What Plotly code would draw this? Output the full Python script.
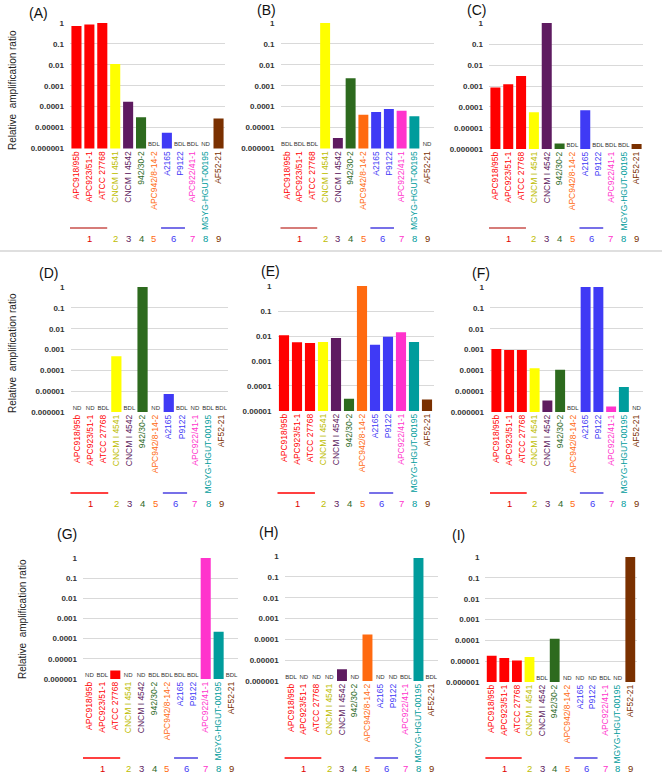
import plotly.graph_objects as go

W, H = 662, 773


def fx(px):
    return px / W


def fy(py):
    return 1 - py / H


categories = ["APC918/95b", "APC923/51-1", "ATCC 27768", "CNCM I 4541", "CNCM I 4542",
              "942/30-2", "APC942/8-14-2", "A2165", "P9122", "APC922/41-1",
              "MGYG-HGUT-00195", "AF52-21"]
bar_colors = ["#FF0000", "#FF0000", "#FF0000", "#FFFF00", "#5E1B60", "#2D6A1E",
              "#FF6A10", "#3F3AF5", "#3F3AF5", "#FF33CC", "#009C9C", "#7A3000"]
label_colors = ["#FF0000", "#FF0000", "#FF0000", "#BDBD00", "#5E1B60", "#2D6A1E",
                "#FF6A10", "#3F3AF5", "#3F3AF5", "#FF33CC", "#009C9C", "#7A3000"]

group_names = ["1", "2", "3", "4", "5", "6", "7", "8", "9"]
group_pos = [1, 3, 4, 5, 6, 7.5, 9, 10, 11]
group_colors = ["#E00000", "#BDBD00", "#5E1B60", "#2D6A1E", "#FF6A10", "#3F3AF5",
                "#FF33CC", "#009C9C", "#7A3000"]

tick_vals = [1e-6, 1e-5, 1e-4, 1e-3, 1e-2, 1e-1, 1]
tick_text = ["0.000001", "0.00001", "0.0001", "0.001", "0.01", "0.1", "1"]

vals_A = [0.72, 0.86, 1.0, 0.011, 1.7e-4, 3.1e-5, None, 5.7e-6, None, None, None, 2.7e-5]
notes_A = ["", "", "", "", "", "", "BDL", "", "BDL", "BDL", "ND", ""]
vals_B = [None, None, None, 1.0, 3.2e-6, 2.3e-3, 4.1e-5, 5.6e-5, 7.8e-5, 6.3e-5, 3.5e-5, None]
notes_B = ["BDL", "BDL", "BDL", "", "", "", "", "", "", "", "", "ND"]
vals_C = [8.5e-4, 1.2e-3, 3.0e-3, 5.6e-5, 1.0, 1.8e-6, None, 6.9e-5, None, None, None, 1.7e-6]
notes_C = ["", "", "", "", "", "", "BDL", "", "BDL", "BDL", "BDL", ""]
vals_D = [None, None, None, 4.7e-4, None, 1.0, None, 7.2e-6, None, None, None, None]
notes_D = ["ND", "ND", "BDL", "", "BDL", "", "ND", "", "BDL", "ND", "BDL", "BDL"]
vals_E = [0.0107, 0.0056, 0.0052, 0.0058, 0.0083, 3.1e-5, 1.0, 0.0045, 0.0093, 0.014, 0.0058, 2.9e-5]
notes_E = [""] * 12
vals_F = [1.05e-3, 9.5e-4, 9.5e-4, 1.26e-4, 3.5e-6, 1.05e-4, None, 1.0, 1.0, 1.8e-6, 1.6e-5, None]
notes_F = ["", "", "", "", "", "", "BDL", "", "", "", "", "ND"]
vals_G = [None, None, 2.6e-6, None, None, None, None, None, None, 1.0, 2.2e-4, None]
notes_G = ["ND", "BDL", "", "ND", "ND", "BDL", "BDL", "BDL", "BDL", "", "", "BDL"]
vals_H = [None, None, None, None, 3.6e-6, None, 1.7e-4, None, None, None, 0.8, None]
notes_H = ["BDL", "ND", "ND", "ND", "", "ND", "", "ND", "ND", "BDL", "", "BDL"]
vals_I = [1.8e-5, 1.4e-5, 1.07e-5, 1.6e-5, None, 1.2e-4, None, None, None, None, None, 1.0]
notes_I = ["", "", "", "", "BDL", "", "ND", "ND", "ND", "BDL", "ND", ""]

panels = [
    # name, values, notes, x px domain, y px domain, log low, title pos, group line y, number y, line1 color
    ("A", vals_A, notes_A, (70, 225), (23, 148.5), -6, (27, 13), 228, 238, "#C8504D"),
    ("B", vals_B, notes_B, (280.5, 433.5), (23, 148.5), -6, (255, 10), 228, 238, "#C8504D"),
    ("C", vals_C, notes_C, (489, 643), (23, 149), -6, (465, 10), 228, 238, "#C8504D"),
    ("D", vals_D, notes_D, (70.5, 227.7), (287, 412), -6, (37, 273), 493, 503, "#FF0000"),
    ("E", vals_E, notes_E, (277.5, 433.5), (286, 411), -5, (259, 271), 493, 503, "#FF0000"),
    ("F", vals_F, notes_F, (490, 643), (287, 412), -6, (470, 273), 493, 503, "#FF0000"),
    ("G", vals_G, notes_G, (83, 238), (558, 679), -6, (55, 534), 758, 768, "#FF0000"),
    ("H", vals_H, notes_H, (284.6, 437.6), (556, 681), -6, (257, 532), 758, 768, "#FF0000"),
    ("I", vals_I, notes_I, (485.4, 636.6), (557, 682), -6, (450, 535), 758, 768, "#FF0000"),
]

ytitle_pos = [(12, 90), (12, 353), (22, 619)]

fig = go.Figure()
annotations = []
shapes = []

ticktext_x = ['<span style="color:%s">%s</span>' % (c, n) for n, c in zip(categories, label_colors)]

for i, (name, vals, notes, xd, yd, low, tpos, gl_y, gn_y, l1c) in enumerate(panels):
    k = i + 1
    xa = "x" if k == 1 else "x%d" % k
    ya = "y" if k == 1 else "y%d" % k
    fig.add_trace(go.Bar(x=categories, y=vals, marker=dict(color=bar_colors, line=dict(width=0)),
                         xaxis=xa, yaxis=ya, hoverinfo="x+y"))
    nx = [c for c, n in zip(categories, notes) if n]
    nt = [n for n in notes if n]
    if nx:
        fig.add_trace(go.Scatter(x=nx, y=[10 ** (low + 0.17)] * len(nx), text=nt, mode="text",
                                 textfont=dict(size=6, color="#333333", family="Liberation Sans"),
                                 xaxis=xa, yaxis=ya, hoverinfo="skip"))
    xkey = "xaxis" if k == 1 else "xaxis%d" % k
    ykey = "yaxis" if k == 1 else "yaxis%d" % k
    fig.layout[xkey] = dict(domain=[fx(xd[0]), fx(xd[1])], anchor=ya, type="category",
                            range=[-0.5, 11.5], tickmode="array", tickvals=categories,
                            ticktext=ticktext_x, tickangle=-90, showgrid=False, showline=False,
                            ticks="", tickfont=dict(size=8.5, family="Liberation Sans"),
                            automargin=False, fixedrange=True)
    tv = [v for v in tick_vals if v >= 10 ** low * 0.999]
    tt = tick_text[len(tick_vals) - len(tv):]
    fig.layout[ykey] = dict(domain=[fy(yd[1]), fy(yd[0])], anchor=xa, type="log",
                            range=[low - 0.003, 0.003], tickmode="array", tickvals=tv, ticktext=tt,
                            showgrid=True, gridcolor="#D9D9D9", gridwidth=1, zeroline=False,
                            showline=False, ticks="", ticklabelstandoff=5,
                            tickfont=dict(size=8, family="Liberation Sans", color="#333333",
                                          weight="bold"),
                            automargin=False, fixedrange=True)
    # panel title
    annotations.append(dict(text="(%s)" % name, x=fx(tpos[0]), y=fy(tpos[1]), xref="paper",
                            yref="paper", xanchor="left", yanchor="middle", showarrow=False,
                            font=dict(size=14, family="Liberation Sans", color="#111111")))
    # group underline bars
    shapes.append(dict(type="line", xref=xa, yref="paper", x0=-0.62, x1=2.38,
                       y0=fy(gl_y), y1=fy(gl_y), line=dict(color=l1c, width=1.5)))
    shapes.append(dict(type="line", xref=xa, yref="paper", x0=6.55, x1=8.4,
                       y0=fy(gl_y), y1=fy(gl_y), line=dict(color="#4A40E0", width=1.5)))
    for gname, gp, gc in zip(group_names, group_pos, group_colors):
        annotations.append(dict(text=gname, x=gp, y=fy(gn_y), xref=xa, yref="paper",
                                xanchor="center", yanchor="middle", showarrow=False,
                                font=dict(size=9.5, family="Liberation Sans", color=gc)))

for (px, py) in ytitle_pos:
    annotations.append(dict(text="Relative  amplification ratio", x=fx(px), y=fy(py),
                            xref="paper", yref="paper", xanchor="center", yanchor="middle",
                            textangle=-90, showarrow=False,
                            font=dict(size=10, family="Liberation Sans", color="#222222")))

shapes.append(dict(type="line", xref="paper", yref="paper", x0=0, x1=1,
                   y0=fy(251), y1=fy(251), line=dict(color="#BFBFBF", width=1)))

fig.update_layout(width=W, height=H, margin=dict(l=0, r=0, t=0, b=0),
                  paper_bgcolor="white", plot_bgcolor="white", showlegend=False,
                  bargap=0.22, annotations=annotations, shapes=shapes,
                  font=dict(family="Liberation Sans"))

fig.write_html("out.html", config={"displayModeBar": False},
               post_script="document.body.style.margin='0';document.body.style.overflow='hidden';")
